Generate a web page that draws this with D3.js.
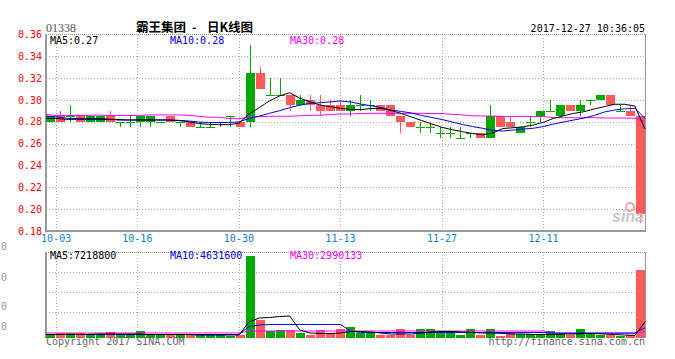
<!DOCTYPE html>
<html>
<head>
<meta charset="utf-8">
<script src="https://cdn.jsdelivr.net/npm/d3@7"></script>
<style>
  body { margin: 0; background: #fff; }
  svg { display: block; }
  text { font-family: "DejaVu Sans Mono", monospace; font-size: 10px; }
</style>
</head>
<body>
<svg id="chart" width="675" height="359"></svg>
<script>
// ---- data ----
const dates = [
  '09-29', '10-03', '10-04', '10-06', '10-09', '10-10', '10-11', '10-12', '10-13',
  '10-16', '10-17', '10-18', '10-19', '10-20', '10-23', '10-24', '10-25', '10-26', '10-27',
  '10-30', '10-31', '11-01', '11-02', '11-03', '11-06', '11-07', '11-08', '11-09', '11-10',
  '11-13', '11-14', '11-15', '11-16', '11-17', '11-20', '11-21', '11-22', '11-23', '11-24',
  '11-27', '11-28', '11-29', '11-30', '12-01', '12-04', '12-05', '12-06', '12-07', '12-08',
  '12-11', '12-12', '12-13', '12-14', '12-15', '12-18', '12-19', '12-20', '12-21', '12-22',
  '12-27'
];
const open = [
  0.28, 0.285, 0.285, 0.285, 0.28, 0.28, 0.285, 0.28, 0.28,
  0.28, 0.28, 0.28, 0.285, 0.28, 0.28, 0.275, 0.275, 0.28, 0.285,
  0.28, 0.28, 0.325, 0.305, 0.305, 0.305, 0.295, 0.30, 0.295, 0.295,
  0.295, 0.29, 0.295, 0.295, 0.295, 0.295, 0.285, 0.28, 0.275, 0.275,
  0.27, 0.27, 0.265, 0.27, 0.27, 0.265, 0.285, 0.28, 0.27, 0.28,
  0.285, 0.29, 0.285, 0.295, 0.29, 0.30, 0.30, 0.305, 0.29, 0.29,
  0.285
];
const high = [
  0.285, 0.29, 0.295, 0.285, 0.285, 0.285, 0.29, 0.28, 0.285,
  0.285, 0.285, 0.28, 0.285, 0.28, 0.28, 0.28, 0.28, 0.28, 0.285,
  0.28, 0.35, 0.33, 0.32, 0.32, 0.305, 0.305, 0.305, 0.305, 0.30,
  0.30, 0.30, 0.305, 0.30, 0.295, 0.295, 0.285, 0.28, 0.28, 0.28,
  0.275, 0.275, 0.275, 0.27, 0.27, 0.295, 0.285, 0.285, 0.275, 0.285,
  0.29, 0.30, 0.295, 0.295, 0.30, 0.30, 0.305, 0.305, 0.295, 0.295,
  0.285
];
const low = [
  0.28, 0.28, 0.28, 0.28, 0.28, 0.28, 0.28, 0.275, 0.275,
  0.275, 0.275, 0.28, 0.28, 0.275, 0.275, 0.275, 0.275, 0.275, 0.275,
  0.275, 0.275, 0.31, 0.305, 0.305, 0.29, 0.295, 0.29, 0.285, 0.29,
  0.29, 0.285, 0.29, 0.29, 0.29, 0.285, 0.27, 0.275, 0.27, 0.27,
  0.265, 0.265, 0.265, 0.265, 0.265, 0.265, 0.275, 0.275, 0.27, 0.275,
  0.28, 0.29, 0.285, 0.29, 0.285, 0.295, 0.30, 0.295, 0.29, 0.285,
  0.187
];
const close = [
  0.285, 0.28, 0.285, 0.28, 0.285, 0.285, 0.28, 0.28, 0.28,
  0.285, 0.285, 0.28, 0.28, 0.28, 0.275, 0.275, 0.275, 0.28, 0.285,
  0.275, 0.325, 0.31, 0.305, 0.305, 0.295, 0.30, 0.295, 0.29, 0.29,
  0.29, 0.295, 0.295, 0.295, 0.29, 0.285, 0.28, 0.275, 0.275, 0.275,
  0.27, 0.27, 0.265, 0.27, 0.265, 0.285, 0.275, 0.275, 0.275, 0.28,
  0.29, 0.29, 0.295, 0.29, 0.295, 0.30, 0.305, 0.295, 0.29, 0.285,
  0.196
];
const volume = [
  1200000, 2400000, 2400000, 2400000, 1500000, 1200000, 2550000, 1200000, 1200000,
  3000000, 1950000, 1500000, 1200000, 1200000, 1200000, 1800000, 1800000, 1800000, 900000,
  1500000, 36750000, 7950000, 3000000, 3450000, 3450000, 2400000, 1500000, 3450000, 2400000,
  4200000, 4800000, 2400000, 2400000, 1200000, 1200000, 3900000, 1500000, 4200000, 3900000,
  3000000, 3000000, 1200000, 4200000, 1200000, 4200000, 750000, 2400000, 1950000, 1950000,
  1200000, 3000000, 2400000, 1200000, 4200000, 1950000, 1200000, 1200000, 750000, 1200000,
  30450000
];

// moving averages as drawn on the chart
const ma5 = [
  0.2832, 0.2831, 0.2823, 0.2823, 0.2823, 0.2823, 0.2823, 0.2821, 0.2817,
  0.2817, 0.2817, 0.2817, 0.2817, 0.2812, 0.2801, 0.2785, 0.2777, 0.2774, 0.2774,
  0.2787, 0.2872, 0.2930, 0.2991, 0.3037, 0.3067, 0.3016, 0.2984, 0.2954, 0.2939,
  0.2924, 0.2913, 0.2911, 0.2922, 0.2924, 0.2904, 0.2876, 0.2844, 0.2812, 0.2780,
  0.2750, 0.2728, 0.2710, 0.2693, 0.2681, 0.2698, 0.2739, 0.2746, 0.2755, 0.2771,
  0.2796, 0.2832, 0.2856, 0.2878, 0.2893, 0.2918, 0.2939, 0.2961, 0.2961, 0.2945,
  0.2734
];
const ma10 = [
  0.2853, 0.2846, 0.2832, 0.2831, 0.2831, 0.2831, 0.2826, 0.2817, 0.2817,
  0.2817, 0.2817, 0.2817, 0.2817, 0.2814, 0.2808, 0.2799, 0.2794, 0.2794, 0.2794,
  0.2799, 0.2831, 0.2853, 0.2878, 0.2902, 0.2930, 0.2952, 0.2970, 0.2975, 0.2982,
  0.2991, 0.2982, 0.2963, 0.2947, 0.2931, 0.2908, 0.2895, 0.2881, 0.2858, 0.2840,
  0.2821, 0.2799, 0.2776, 0.2757, 0.2741, 0.2721, 0.2716, 0.2725, 0.2734, 0.2741,
  0.2757, 0.2780, 0.2799, 0.2817, 0.2835, 0.2858, 0.2890, 0.2908, 0.2919, 0.2924,
  0.2832
];
const ma30 = [
  0.2867, 0.2858, 0.2858, 0.2858, 0.2858, 0.2863, 0.2858, 0.2858, 0.2858,
  0.2858, 0.2863, 0.2863, 0.2863, 0.2863, 0.2860, 0.2851, 0.2842, 0.2842, 0.2831,
  0.2829, 0.2842, 0.2847, 0.2851, 0.2851, 0.2851, 0.2856, 0.2860, 0.2860, 0.2867,
  0.2872, 0.2872, 0.2876, 0.2878, 0.2878, 0.2878, 0.2878, 0.2878, 0.2878, 0.2876,
  0.2876, 0.2869, 0.2863, 0.2856, 0.2853, 0.2853, 0.2849, 0.2849, 0.2849, 0.2849,
  0.2849, 0.2838, 0.2838, 0.2838, 0.2838, 0.2838, 0.2835, 0.2835, 0.2835, 0.2832,
  0.2801
];
const volMa5 = [
  1575000, 1575000, 1575000, 1575000, 1575000, 1800000, 1800000, 1800000, 1800000,
  1800000, 1575000, 1575000, 1575000, 1575000, 1575000, 1350000, 1350000, 1350000, 1350000,
  1350000, 7200000, 9000000, 9225000, 9675000, 9900000, 3600000, 2250000, 2025000, 2025000,
  2250000, 2925000, 2925000, 2700000, 2250000, 1800000, 1800000, 1800000, 2250000, 2700000,
  2925000, 2925000, 2700000, 2475000, 2250000, 2250000, 2025000, 1800000, 1800000, 1575000,
  1575000, 1575000, 1800000, 1800000, 2025000, 2025000, 1800000, 1575000, 1350000, 1125000,
  7218800
];
const volMa10 = [
  1575000, 1575000, 1575000, 1575000, 1575000, 1575000, 1575000, 1575000, 1575000,
  1575000, 1575000, 1575000, 1575000, 1575000, 1575000, 1575000, 1575000, 1575000, 1575000,
  1575000, 5175000, 5850000, 6075000, 6075000, 6075000, 6075000, 6075000, 6075000, 6075000,
  6075000, 3150000, 2475000, 2475000, 2475000, 2475000, 2475000, 2475000, 2475000, 2475000,
  2475000, 2475000, 2475000, 2475000, 2475000, 2475000, 2475000, 2475000, 2475000, 2475000,
  2475000, 2250000, 2250000, 2250000, 2250000, 2250000, 2250000, 2250000, 2250000, 2250000,
  4631600
];
const volMa30 = [
  2250000, 2250000, 2250000, 2250000, 2250000, 2250000, 2250000, 2250000, 2250000,
  2250000, 2250000, 2250000, 2250000, 2250000, 2250000, 2250000, 2250000, 2250000, 2250000,
  2250000, 3150000, 3150000, 3150000, 3150000, 3150000, 3150000, 3150000, 3150000, 3150000,
  3150000, 3150000, 3150000, 3150000, 3150000, 3150000, 3150000, 3150000, 3150000, 3150000,
  3150000, 3150000, 3150000, 3150000, 3150000, 3150000, 3150000, 3150000, 3150000, 3150000,
  3150000, 2115000, 2115000, 2115000, 2115000, 2115000, 2115000, 2115000, 2115000, 2115000,
  2990133
];

const dateTicks = ['10-03', '10-16', '10-30', '11-13', '11-27', '12-11'];
const priceTicks = [0.18, 0.20, 0.22, 0.24, 0.26, 0.28, 0.30, 0.32, 0.34, 0.36];
const volGridTicks = [11600000, 20500000, 29500000];
// only the last digit of the volume axis labels is visible at the left edge
const volAxisTicks = [40000000, 26000000, 13000000, 4000000];

// ---- layout ----
const left = 46, right = 645;
const mainTop = 34.5, mainBottom = 231;
const volTop = 252, volBottom = 338;
const GREEN = '#00a800', RED = '#ff5a5a', GRID = '#aaa', BORDER = '#999';

const svg = d3.select('#chart');

const xBand = d3.scaleBand().domain(dates)
  .range([left - 0.5, right + 0.5])
  .paddingInner(0.1).paddingOuter(0.05);
const xPoint = d3.scalePoint().domain(dates).range([left, right]);
const y = d3.scaleLinear().domain([0.18, 0.36]).range([mainBottom, mainTop]);
const yVol = d3.scaleLinear().domain([0, 38700000]).range([volBottom, volBottom - 86]);

const candles = dates.map((d, i) => ({
  date: d, o: open[i], h: high[i], l: low[i], c: close[i], v: volume[i]
}));
const colorOf = d => d.c < d.o ? RED : GREEN;
const px = v => Math.round(v);

// ---- grid ----
const grid = svg.append('g')
  .attr('stroke', GRID)
  .attr('stroke-dasharray', '1,2')
  .attr('shape-rendering', 'crispEdges');

grid.selectAll('.hg')
  .data(priceTicks.filter(p => p > 0.18 && p < 0.36))
  .join('line')
  .attr('x1', left).attr('x2', right)
  .attr('y1', d => px(y(d)) + 0.5).attr('y2', d => px(y(d)) + 0.5);

grid.selectAll('.vg')
  .data(volGridTicks)
  .join('line')
  .attr('x1', left).attr('x2', right)
  .attr('y1', d => px(yVol(d)) + 0.5).attr('y2', d => px(yVol(d)) + 0.5);

dateTicks.forEach(d => {
  const x = px(xPoint(d)) + 0.5;
  grid.append('line').attr('x1', x).attr('x2', x).attr('y1', mainTop).attr('y2', mainBottom);
  grid.append('line').attr('x1', x).attr('x2', x).attr('y1', volTop).attr('y2', volBottom);
});

// ---- frames ----
const frame = svg.append('g').attr('shape-rendering', 'crispEdges');
[[mainTop, mainBottom], [volTop, volBottom]].forEach(([t, b]) => {
  frame.append('line').attr('x1', left).attr('x2', right + 1)
    .attr('y1', Math.floor(t) + 0.5).attr('y2', Math.floor(t) + 0.5)
    .attr('stroke', BORDER).attr('stroke-dasharray', '1,1');
  frame.append('rect').attr('x', left - 1).attr('y', Math.floor(t)).attr('width', 2)
    .attr('height', b - Math.floor(t)).attr('fill', BORDER);
  frame.append('rect').attr('x', right).attr('y', Math.floor(t)).attr('width', 1)
    .attr('height', b - Math.floor(t)).attr('fill', BORDER);
});
frame.append('rect').attr('x', left - 1).attr('y', mainBottom - 1)
  .attr('width', right - left + 2).attr('height', 2).attr('fill', BORDER);

// ---- candles ----
const cg = svg.append('g').attr('shape-rendering', 'crispEdges');
cg.selectAll('.wick').data(candles).join('rect')
  .attr('x', d => xBand(d.date) + 4)
  .attr('width', 1)
  .attr('y', d => px(y(d.h)))
  .attr('height', d => Math.max(1, px(y(d.l)) - px(y(d.h))))
  .attr('fill', colorOf);
cg.selectAll('.body').data(candles).join('rect')
  .attr('x', d => xBand(d.date))
  .attr('width', xBand.bandwidth())
  .attr('y', d => px(y(Math.max(d.o, d.c))))
  .attr('height', d => Math.max(1, px(y(Math.min(d.o, d.c))) - px(y(Math.max(d.o, d.c)))))
  .attr('fill', colorOf);

// ---- volume bars ----
cg.selectAll('.vol').data(candles).join('rect')
  .attr('x', d => xBand(d.date))
  .attr('width', xBand.bandwidth())
  .attr('y', d => px(yVol(d.v)))
  .attr('height', d => volBottom - px(yVol(d.v)))
  .attr('fill', colorOf);

// ---- moving average lines ----
function drawLine(values, scale, color) {
  const line = d3.line()
    .x((d, i) => xPoint(dates[i]))
    .y(d => scale(d));
  svg.append('path')
    .datum(values)
    .attr('d', line)
    .attr('fill', 'none')
    .attr('stroke', color)
    .attr('stroke-width', 1);
}
drawLine(ma30, y, '#ff00ff');
drawLine(ma10, y, '#0000ff');
drawLine(ma5, y, '#000');
drawLine(volMa30, yVol, '#ff00ff');
drawLine(volMa10, yVol, '#0000ff');
drawLine(volMa5, yVol, '#000');

// ---- axes text ----
svg.append('g').selectAll('text')
  .data(priceTicks)
  .join('text')
  .attr('x', 42)
  .attr('y', d => y(d) + 3.5)
  .attr('text-anchor', 'end')
  .attr('fill', '#ff0000')
  .text(d => d.toFixed(2));

svg.append('g').selectAll('text')
  .data(dateTicks)
  .join('text')
  .attr('x', d => xPoint(d))
  .attr('y', 242)
  .attr('text-anchor', 'middle')
  .attr('fill', '#0a84c8')
  .text(d => d);

svg.append('g').selectAll('text')
  .data(volAxisTicks)
  .join('text')
  .attr('x', 1)
  .attr('y', d => yVol(d) + 1)
  .attr('fill', '#999')
  .text(d => String(d).slice(-1));

// ---- legends ----
const legend = (x, yPos, color, txt) =>
  svg.append('text').attr('x', x).attr('y', yPos).attr('fill', color).text(txt);
legend(50, 44, '#000', 'MA5:0.27');
legend(170, 44, '#0000ff', 'MA10:0.28');
legend(290, 44, '#ff00ff', 'MA30:0.28');
legend(50, 259, '#000', 'MA5:7218800');
legend(170, 259, '#0000ff', 'MA10:4631600');
legend(290, 259, '#ff00ff', 'MA30:2990133');

// ---- header ----
svg.append('text')
  .attr('x', 46).attr('y', 31.5)
  .attr('fill', '#555')
  .style('font-family', '"Liberation Serif", serif')
  .style('font-size', '12px')
  .text('01338');
const titleFont = t => t
  .attr('fill', '#000')
  .style('font-family', '"Noto Sans CJK SC", sans-serif')
  .style('font-size', '12.5px')
  .style('font-weight', 'bold');
svg.append('text').attr('x', 136).attr('y', 31.5).call(titleFont).text('霸王集团');
svg.append('text').attr('x', 192).attr('y', 31.5).call(titleFont).text('-');
svg.append('text').attr('x', 207).attr('y', 31.5).call(titleFont).text('日K线图');
svg.append('text')
  .attr('x', 645).attr('y', 31.5)
  .attr('text-anchor', 'end')
  .attr('fill', '#000')
  .text('2017-12-27 10:36:05');

// ---- footer ----
svg.append('text').attr('x', 46).attr('y', 344.5).attr('fill', '#666')
  .text('Copyright 2017 SINA.COM');
svg.append('text').attr('x', 645).attr('y', 344.5).attr('fill', '#666')
  .attr('text-anchor', 'end')
  .text('http://finance.sina.com.cn');

// ---- sina watermark ----
const logo = svg.append('g').attr('transform', 'translate(612,222)');
logo.append('circle').attr('cx', 18).attr('cy', -15).attr('r', 4)
  .attr('fill', 'none').attr('stroke', '#f3a4a4').attr('stroke-width', 2);
logo.append('text')
  .style('font-family', '"Liberation Sans", sans-serif')
  .style('font-size', '16px')
  .style('font-style', 'italic')
  .style('font-weight', 'bold')
  .attr('fill', '#c4c4c4')
  .attr('opacity', 0.9)
  .text('sina');
</script>
</body>
</html>
